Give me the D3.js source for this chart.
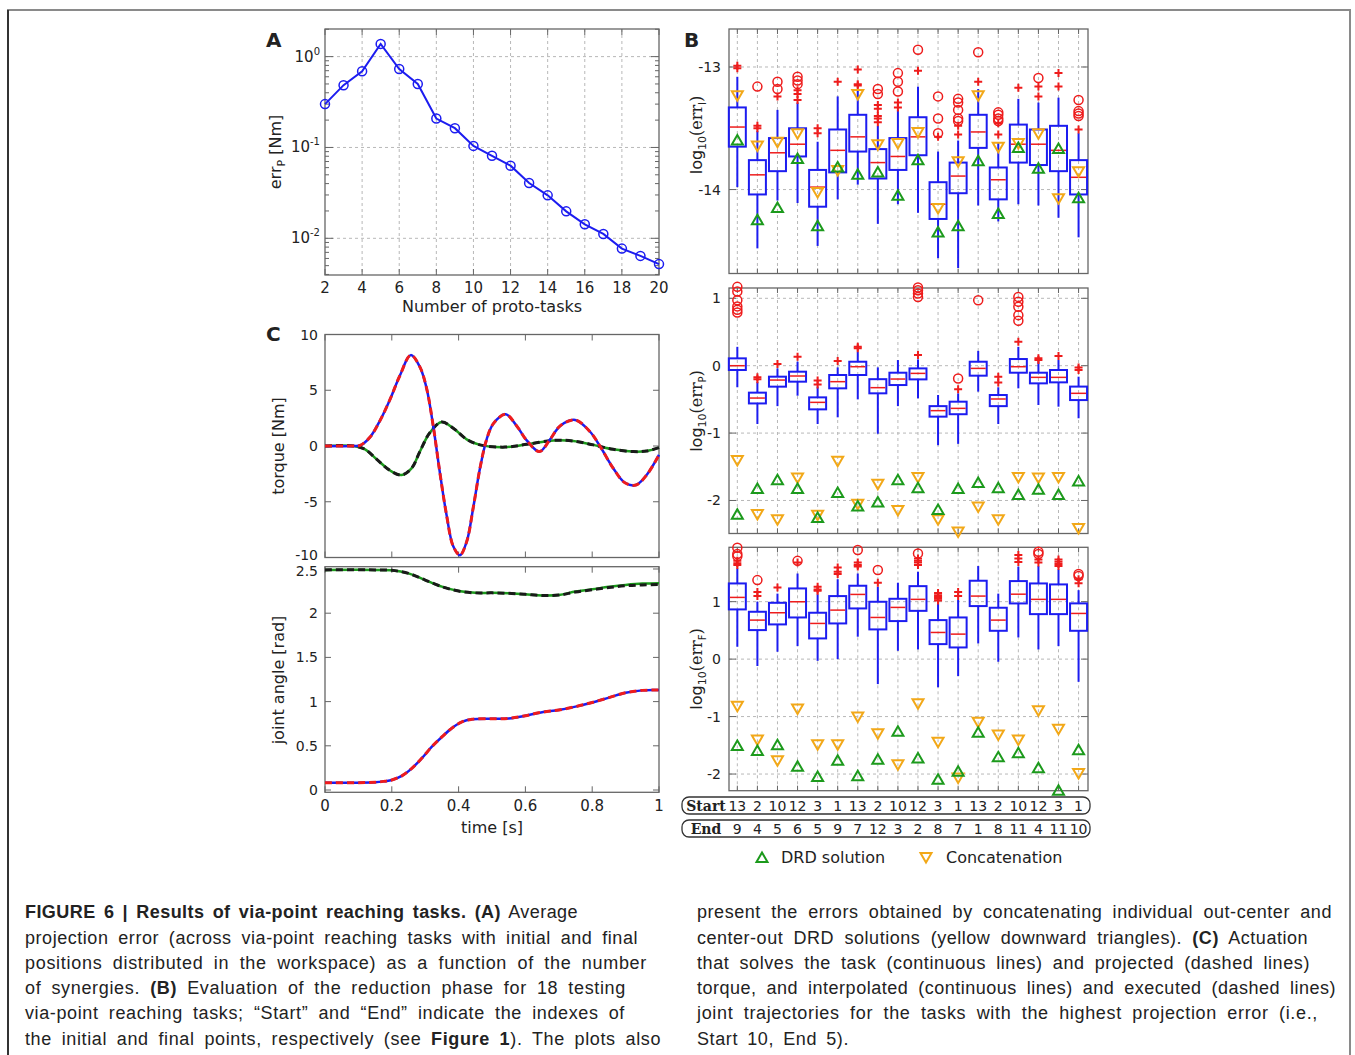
<!DOCTYPE html>
<html>
<head>
<meta charset="utf-8">
<script src="https://cdn.jsdelivr.net/npm/d3@7"></script>
<style>
body { margin: 0; background: #fff; }
text { fill: #222; }
</style>
</head>
<body>
<div id="vis"></div>
<script>
// ---- panel A: projection error vs number of proto-tasks
const nProto = [2,3,4,5,6,7,8,9,10,11,12,13,14,15,16,17,18,19,20];
const errP = [0.30,0.485,0.69,1.38,0.73,0.50,0.208,0.163,0.104,0.081,0.063,0.0406,0.0297,0.0198,0.01426,0.01117,0.0077,0.0064,0.0052];
const xTicksA = [2,4,6,8,10,12,14,16,18,20];
const yTicksA = [1,0.1,0.01];
const yTickExpA = ["0","-1","-2"];

// ---- panel B: 18 testing tasks
const startIdx = [13,2,10,12,3,1,13,2,10,12,3,1,13,2,10,12,3,1];
const endIdx = [9,4,5,6,5,9,7,12,3,2,8,7,1,8,11,4,11,10];

// log10(err_I)
const errI_q3  = [-13.33,-13.76,-13.58,-13.50,-13.84,-13.51,-13.39,-13.67,-13.58,-13.41,-13.94,-13.78,-13.39,-13.82,-13.47,-13.51,-13.48,-13.76];
const errI_med = [-13.49,-13.88,-13.70,-13.63,-13.98,-13.68,-13.57,-13.78,-13.73,-13.57,-14.12,-13.89,-13.53,-13.92,-13.63,-13.63,-13.68,-13.90];
const errI_q1  = [-13.65,-14.04,-13.85,-13.73,-14.14,-13.86,-13.69,-13.91,-13.84,-13.72,-14.24,-14.03,-13.66,-14.08,-13.78,-13.80,-13.85,-14.04];
const errI_hi  = [-13.08,-13.52,-13.35,-13.29,-13.61,-13.24,-13.18,-13.48,-13.35,-13.16,-13.69,-13.60,-13.18,-13.62,-13.26,-13.29,-13.25,-13.54];
const errI_lo  = [-13.98,-14.48,-14.09,-14.11,-14.46,-14.08,-13.96,-14.28,-14.12,-14.19,-14.56,-14.64,-14.13,-14.26,-14.12,-14.13,-14.23,-14.39];
const errI_plus = [[-13.01,-12.99],[-13.48,-13.50],[-13.24],[-13.19,-13.22,-13.27],[-13.50,-13.54],[-13.12],[-13.02,-13.14,-13.15],[-13.31,-13.34,-13.40,-13.42,-13.45],[-13.29,-13.33],[-13.03],[-13.57],[-13.48,-13.55],[-13.12],[-13.46,-13.55],[-13.17],[-13.16,-13.24],[-13.05,-13.16],[-13.51]];
const errI_circ = [[],[-13.16],[-13.12,-13.18],[-13.08,-13.11,-13.14],[],[],[],[-13.18,-13.22],[-13.05,-13.12,-13.20],[-12.86],[-13.24,-13.42,-13.54],[-13.26,-13.29,-13.35,-13.42,-13.44],[-12.88],[-13.37,-13.39,-13.42,-13.44],[],[-13.09],[],[-13.27,-13.36,-13.38,-13.40]];
const errI_drd = [-13.60,-14.25,-14.15,-13.75,-14.30,-13.82,-13.88,-13.86,-14.05,-13.76,-14.35,-14.30,-13.77,-14.20,-13.66,-13.83,-13.67,-14.07];
const errI_cat = [-13.23,-13.64,-13.61,-13.54,-14.02,-13.84,-13.22,-13.63,-13.62,-13.53,-14.15,-13.77,-13.23,-13.65,-13.62,-13.54,-14.07,-13.85];

// log10(err_P)
const errPb_q3  = [0.109,-0.40,-0.163,-0.089,-0.47,-0.138,0.059,-0.20,-0.104,-0.04,-0.60,-0.534,0.059,-0.435,0.099,-0.104,-0.064,-0.31];
const errPb_med = [0,-0.48,-0.213,-0.153,-0.544,-0.237,-0.015,-0.326,-0.198,-0.114,-0.667,-0.633,-0.04,-0.494,-0.015,-0.173,-0.173,-0.41];
const errPb_q1  = [-0.064,-0.56,-0.311,-0.237,-0.648,-0.336,-0.138,-0.41,-0.287,-0.203,-0.756,-0.72,-0.148,-0.60,-0.104,-0.262,-0.247,-0.51];
const errPb_hi  = [0.28,-0.24,-0.04,0.06,-0.31,-0.025,0.21,-0.025,0.084,0.094,-0.435,-0.41,0.22,-0.32,0.28,0.06,0.084,-0.163];
const errPb_lo  = [-0.32,-0.865,-0.60,-0.445,-0.865,-0.766,-0.50,-1.01,-0.60,-0.484,-1.18,-1.16,-0.385,-0.865,-0.336,-0.583,-0.608,-0.78];
const errPb_plus = [[],[-0.17,-0.20],[0.025],[0.133],[-0.22,-0.28],[0.07],[0.28,0.26],[],[],[0.158],[],[-0.35],[],[-0.163,-0.25],[0.356],[0.109,0.084],[0.143],[-0.025,-0.064]];
const errPb_circ = [[1.17,1.10,0.97,0.88,0.83,0.79],[],[],[],[],[],[],[],[],[1.16,1.12,1.07,1.02],[],[-0.19],[0.97],[],[1.02,0.95,0.875,0.75,0.667],[],[],[]];
const errPb_drd = [-2.21,-1.83,-1.70,-1.83,-2.26,-1.89,-2.09,-2.03,-1.70,-1.82,-2.14,-1.83,-1.74,-1.82,-1.92,-1.84,-1.92,-1.72];
const errPb_cat = [-1.40,-2.20,-2.28,-1.66,-2.21,-1.41,-2.05,-1.75,-2.14,-1.65,-2.28,-2.46,-2.09,-2.28,-1.65,-1.66,-1.65,-2.41];

// log10(err_F)
const errF_q3  = [1.317,0.824,0.98,1.23,0.807,1.097,1.277,0.998,1.05,1.27,0.679,0.725,1.364,0.894,1.358,1.317,1.30,0.97];
const errF_med = [1.074,0.679,0.807,0.998,0.621,0.853,1.126,0.725,0.90,1.04,0.464,0.435,1.097,0.679,1.13,1.04,1.04,0.795];
const errF_q1  = [0.865,0.505,0.604,0.725,0.36,0.621,0.882,0.517,0.662,0.84,0.261,0.203,0.923,0.493,0.969,0.783,0.783,0.493];
const errF_hi  = [1.58,1.0,1.14,1.49,1.13,1.39,1.49,1.26,1.33,1.52,0.97,1.03,1.62,1.14,1.61,1.62,1.56,1.20];
const errF_lo  = [0.215,-0.12,0.128,0.226,-0.03,0.0,0.39,-0.435,0.145,0.168,-0.49,-0.296,0.273,-0.046,0.377,0.168,0.226,-0.395];
const errF_plus = [[1.71,1.67,1.64],[1.17,1.10],[1.248],[1.68],[1.26,1.21,1.19],[1.596,1.52,1.48],[1.68,1.64,1.61],[1.33],[],[1.75,1.71,1.68,1.64],[1.15,1.11,1.08,1.05,1.02],[1.17,1.10],[],[],[1.81,1.75,1.69],[1.735,1.68],[1.735,1.695,1.654,1.62],[1.39,1.32]];
const errF_circ = [[1.94,1.83,1.79],[1.375],[],[1.71],[],[],[1.90],[1.55],[],[1.84],[],[],[],[],[],[1.87,1.83],[],[1.48,1.445]];
const errF_drd = [-1.51,-1.60,-1.50,-1.875,-2.05,-1.77,-2.04,-1.75,-1.265,-1.73,-2.10,-1.96,-1.28,-1.71,-1.64,-1.90,-2.29,-1.585];
const errF_cat = [-0.81,-1.40,-1.76,-0.86,-1.48,-1.48,-1.0,-1.29,-1.83,-0.77,-1.44,-2.06,-1.09,-1.31,-1.40,-0.89,-1.21,-1.98];

// ---- panel C: torque and joint angle, task Start 10 End 5
const tq1T = [0,0.085,0.105,0.135,0.165,0.195,0.224,0.257,0.284,0.304,0.324,0.344,0.364,0.384,0.404,0.424,0.444,0.464,0.484,0.504,0.541,0.574,0.604,0.642,0.674,0.704,0.749,0.793,0.823,0.863,0.898,0.931,0.963,1.0];
const tq1 = [0,0,0.05,0.8,2.3,4.2,6.3,8.15,7.1,5.2,1.8,-2.4,-6.2,-9.0,-9.8,-8.6,-5.5,-2.0,0.6,2.0,2.84,1.8,0.5,-0.5,0.6,1.8,2.34,1.3,0.0,-2.0,-3.3,-3.5,-2.6,-0.8];
const tq2T = [0,0.085,0.12,0.155,0.195,0.229,0.259,0.284,0.314,0.349,0.384,0.424,0.464,0.539,0.604,0.684,0.743,0.803,0.863,0.923,0.963,1.0];
const tq2 = [0,0,-0.3,-1.2,-2.2,-2.6,-2.0,-0.5,1.2,2.15,1.6,0.6,0.1,-0.1,0.15,0.5,0.45,0.1,-0.3,-0.5,-0.45,-0.15];
const j1T = [0,0.15,0.18,0.2,0.23,0.26,0.29,0.32,0.35,0.38,0.41,0.44,0.5,0.55,0.6,0.65,0.7,0.75,0.8,0.85,0.9,0.95,1.0];
const j1 = [0.083,0.087,0.10,0.113,0.16,0.245,0.36,0.49,0.60,0.70,0.77,0.80,0.807,0.81,0.84,0.88,0.905,0.943,0.99,1.045,1.10,1.127,1.13];
const j2T = [0,0.15,0.2,0.25,0.3,0.35,0.4,0.45,0.5,0.55,0.6,0.65,0.7,0.75,0.8,0.85,0.9,0.95,1.0];
const j2 = [2.49,2.49,2.485,2.45,2.375,2.30,2.25,2.23,2.23,2.225,2.213,2.20,2.205,2.245,2.27,2.30,2.32,2.335,2.34];
const j2exec = [2.49,2.49,2.485,2.45,2.375,2.30,2.25,2.23,2.23,2.225,2.213,2.20,2.205,2.24,2.265,2.29,2.31,2.32,2.325];
const timeTicks = [0,0.2,0.4,0.6,0.8,1];
const torqueTicks = [10,5,0,-5,-10];
const angleTicks = [2.5,2,1.5,1,0.5,0];

const BLUE = "#1c1cf0", RED = "#ee1c1c", GREEN = "#1c9a1c", ORANGE = "#f2a818";
const SANS = "'DejaVu Sans', sans-serif";
const SERIF = "'DejaVu Serif', serif";
const CAPTION = "'Liberation Sans Narrow', 'Liberation Sans', Arial, sans-serif";

const svg = d3.select("#vis")
    .append("svg")
    .attr("width", 1355)
    .attr("height", 1055)
    .style("font-family", SANS);

// outer figure frame
svg.append("path").attr("d", "M8,1055V10H1350V1055")
    .attr("fill", "none").attr("stroke", "#8a8a8a").attr("stroke-width", 2);
svg.append("line").attr("x1", 8).attr("x2", 8).attr("y1", 10).attr("y2", 1055)
    .attr("stroke", "#333").attr("stroke-width", 2);

function dashed(g, x1, y1, x2, y2) {
    g.append("line").attr("x1", x1).attr("y1", y1).attr("x2", x2).attr("y2", y2)
        .attr("stroke", "#b8b8b8").attr("stroke-width", 1).attr("stroke-dasharray", "3,3");
}
function tick(g, x1, y1, x2, y2) {
    g.append("line").attr("x1", x1).attr("y1", y1).attr("x2", x2).attr("y2", y2)
        .attr("stroke", "#666").attr("stroke-width", 1);
}
function frame(g, x0, y0, x1, y1) {
    g.append("rect").attr("x", x0).attr("y", y0).attr("width", x1 - x0).attr("height", y1 - y0)
        .attr("fill", "none").attr("stroke", "#666").attr("stroke-width", 1.3);
}
function label(g, x, y, txt, opts) {
    opts = opts || {};
    return g.append("text").attr("x", x).attr("y", y)
        .attr("text-anchor", opts.anchor || "middle")
        .attr("font-size", opts.size || 15)
        .attr("font-weight", opts.weight || "normal")
        .text(txt);
}

// ================= panel A
const gA = svg.append("g");
const xA = d3.scaleLinear().domain([2, 20]).range([325, 659]);
const yA = d3.scaleLog().domain([Math.pow(10, -2.404), Math.pow(10, 0.304)]).range([275, 29]);

xTicksA.forEach(v => {
    if (v > 2 && v < 20) dashed(gA, xA(v), 29, xA(v), 275);
    tick(gA, xA(v), 275, xA(v), 269);
    tick(gA, xA(v), 29, xA(v), 35);
    label(gA, xA(v), 293, v, {size: 15});
});
yTicksA.forEach((v, i) => {
    dashed(gA, 325, yA(v), 659, yA(v));
    tick(gA, 325, yA(v), 333, yA(v));
    tick(gA, 659, yA(v), 651, yA(v));
    const t = gA.append("text").attr("x", 320).attr("y", yA(v) + 5)
        .attr("text-anchor", "end").attr("font-size", 15);
    t.append("tspan").text("10");
    t.append("tspan").attr("font-size", 10).attr("dy", -7).text(yTickExpA[i]);
});
[-3, -2, -1, 0].forEach(k => {
    for (let m = 2; m <= 9; m++) {
        const v = m * Math.pow(10, k);
        if (yA(v) > 29 && yA(v) < 275) {
            tick(gA, 325, yA(v), 329, yA(v));
            tick(gA, 659, yA(v), 655, yA(v));
        }
    }
});
frame(gA, 325, 29, 659, 275);
gA.append("path").datum(nProto)
    .attr("d", d3.line().x(d => xA(d)).y((d, i) => yA(errP[i])))
    .attr("fill", "none").attr("stroke", BLUE).attr("stroke-width", 2);
gA.selectAll("circle.a").data(nProto).enter().append("circle")
    .attr("cx", d => xA(d)).attr("cy", (d, i) => yA(errP[i])).attr("r", 4.5)
    .attr("fill", "none").attr("stroke", BLUE).attr("stroke-width", 1.5);

label(gA, 266, 47, "A", {size: 20, weight: "bold", anchor: "start"});
label(gA, 492, 312, "Number of proto-tasks", {size: 16});
const ylA = gA.append("text").attr("transform", "translate(281,152) rotate(-90)")
    .attr("text-anchor", "middle").attr("font-size", 16);
ylA.append("tspan").text("err");
ylA.append("tspan").attr("font-size", 11).attr("dy", 4).text("P");
ylA.append("tspan").attr("dy", -4).text(" [Nm]");

// ================= panel B
const xB = d3.scaleLinear().domain([0.585, 18.47]).range([729, 1088]);
const tasks = d3.range(1, 19);

const panelsB = [
    {top: 29, bot: 273.5, dom: [-14.685, -12.69], ticks: [-13, -14], sub: "I", ly: 135,
     q1: errI_q1, q3: errI_q3, med: errI_med, lo: errI_lo, hi: errI_hi, plus: errI_plus, circ: errI_circ, drd: errI_drd, cat: errI_cat},
    {top: 288, bot: 533.5, dom: [-2.49, 1.153], ticks: [1, 0, -1, -2], sub: "P", ly: 411,
     q1: errPb_q1, q3: errPb_q3, med: errPb_med, lo: errPb_lo, hi: errPb_hi, plus: errPb_plus, circ: errPb_circ, drd: errPb_drd, cat: errPb_cat},
    {top: 547.3, bot: 790.7, dom: [-2.29, 1.946], ticks: [1, 0, -1, -2], sub: "F", ly: 669,
     q1: errF_q1, q3: errF_q3, med: errF_med, lo: errF_lo, hi: errF_hi, plus: errF_plus, circ: errF_circ, drd: errF_drd, cat: errF_cat}
];

const triUp = "M0,-5.5L5.5,4L-5.5,4Z";
const triDown = "M0,5.5L5.5,-4L-5.5,-4Z";

panelsB.forEach(p => {
    const g = svg.append("g");
    const y = d3.scaleLinear().domain(p.dom).range([p.bot, p.top]);
    tasks.forEach(t => {
        dashed(g, xB(t), p.top, xB(t), p.bot);
        tick(g, xB(t), p.bot, xB(t), p.bot - 5);
        tick(g, xB(t), p.top, xB(t), p.top + 5);
    });
    p.ticks.forEach(v => {
        dashed(g, 729, y(v), 1088, y(v));
        tick(g, 729, y(v), 736, y(v));
        tick(g, 1088, y(v), 1081, y(v));
        label(g, 721, y(v) + 5, v, {size: 14, anchor: "end"});
    });
    frame(g, 729, p.top, 1088, p.bot);

    tasks.forEach((t, i) => {
        const cx = xB(t), hw = 8.5;
        g.append("line").attr("x1", cx).attr("x2", cx).attr("y1", y(p.hi[i])).attr("y2", y(p.q3[i]))
            .attr("stroke", BLUE).attr("stroke-width", 2);
        g.append("line").attr("x1", cx).attr("x2", cx).attr("y1", y(p.q1[i])).attr("y2", y(p.lo[i]))
            .attr("stroke", BLUE).attr("stroke-width", 2);
        g.append("rect").attr("x", cx - hw).attr("width", 2 * hw)
            .attr("y", y(p.q3[i])).attr("height", y(p.q1[i]) - y(p.q3[i]))
            .attr("fill", "none").attr("stroke", BLUE).attr("stroke-width", 2);
        g.append("line").attr("x1", cx - hw + 1).attr("x2", cx + hw - 1).attr("y1", y(p.med[i])).attr("y2", y(p.med[i]))
            .attr("stroke", RED).attr("stroke-width", 1.5);
        p.plus[i].forEach(v => {
            g.append("path").attr("transform", `translate(${cx},${y(v)})`).attr("d", "M-4,0H4M0,-4V4")
                .attr("stroke", RED).attr("stroke-width", 2);
        });
        p.circ[i].forEach(v => {
            g.append("circle").attr("cx", cx).attr("cy", y(v)).attr("r", 4.5)
                .attr("fill", "none").attr("stroke", RED).attr("stroke-width", 1.5);
        });
        g.append("path").attr("transform", `translate(${cx},${y(p.cat[i])})`).attr("d", triDown)
            .attr("fill", "none").attr("stroke", ORANGE).attr("stroke-width", 2);
        g.append("path").attr("transform", `translate(${cx},${y(p.drd[i])})`).attr("d", triUp)
            .attr("fill", "none").attr("stroke", GREEN).attr("stroke-width", 2);
    });

    const yl = g.append("text").attr("transform", `translate(702,${p.ly}) rotate(-90)`)
        .attr("text-anchor", "middle").attr("font-size", 16);
    yl.append("tspan").text("log");
    yl.append("tspan").attr("font-size", 11).attr("dy", 4).text("10");
    yl.append("tspan").attr("dy", -4).style("font-family", SERIF).text("(err");
    yl.append("tspan").attr("font-size", 10).attr("dy", 4).text(p.sub);
    yl.append("tspan").attr("dy", -4).style("font-family", SERIF).text(")");
});
label(svg, 684, 47, "B", {size: 20, weight: "bold", anchor: "start"});

// Start / End table
const gT = svg.append("g");
[[797, "Start", startIdx], [820, "End", endIdx]].forEach(([ty, name, arr]) => {
    gT.append("rect").attr("x", 682).attr("y", ty).attr("width", 408).attr("height", 17).attr("rx", 7)
        .attr("fill", "none").attr("stroke", "#333").attr("stroke-width", 1.3);
    gT.append("text").attr("x", 706).attr("y", ty + 13.5).attr("text-anchor", "middle")
        .style("font-family", SERIF).attr("font-weight", "bold").attr("font-size", 14).text(name);
    arr.forEach((v, i) => label(gT, xB(i + 1), ty + 14, v, {size: 14}));
});

// legend
svg.append("path").attr("transform", "translate(762,858)").attr("d", triUp)
    .attr("fill", "none").attr("stroke", GREEN).attr("stroke-width", 2);
label(svg, 781, 863, "DRD solution", {size: 16, anchor: "start"});
svg.append("path").attr("transform", "translate(926,857)").attr("d", triDown)
    .attr("fill", "none").attr("stroke", ORANGE).attr("stroke-width", 2);
label(svg, 946, 863, "Concatenation", {size: 16, anchor: "start"});

// ================= panel C
const gC = svg.append("g");
const xC = d3.scaleLinear().domain([0, 1]).range([325, 659]);
const yT = d3.scaleLinear().domain([-10, 10]).range([557.5, 334.5]);
const yJ = d3.scaleLinear().domain([-0.026, 2.526]).range([792.3, 566.7]);

function cFrame(y, top, bot, ticks, nudge) {
    timeTicks.forEach(t => {
        tick(gC, xC(t), bot, xC(t), bot - 6);
        tick(gC, xC(t), top, xC(t), top + 6);
    });
    ticks.forEach(v => {
        tick(gC, 325, y(v), 331, y(v));
        tick(gC, 659, y(v), 653, y(v));
        label(gC, 318, y(v) + 5 + (nudge[v] || 0), v, {size: 14, anchor: "end"});
    });
    frame(gC, 325, top, 659, bot);
}
// the -10 and 2.5 labels sit close together, as in the figure
cFrame(yT, 334.5, 557.5, torqueTicks, {"-10": -3});
cFrame(yJ, 566.7, 792.3, angleTicks, {"2.5": 2});
timeTicks.forEach(t => label(gC, xC(t), 811, t, {size: 15}));

function curve(ts, vs, y, color, width, dash) {
    const pth = gC.append("path").datum(ts)
        .attr("d", d3.line().x(d => xC(d)).y((d, i) => y(vs[i])).curve(d3.curveCatmullRom))
        .attr("fill", "none").attr("stroke", color).attr("stroke-width", width);
    if (dash) pth.attr("stroke-dasharray", dash);
}
// actuation (solid) and projected (dashed)
curve(tq2T, tq2, yT, GREEN, 2.5);
curve(tq2T, tq2, yT, "#1a1a1a", 3, "7,4");
curve(tq1T, tq1, yT, BLUE, 2.5);
curve(tq1T, tq1, yT, RED, 3, "7,4");
// interpolated (solid) and executed (dashed)
curve(j2T, j2, yJ, GREEN, 2.5);
curve(j2T, j2exec, yJ, "#1a1a1a", 3, "7,4");
curve(j1T, j1, yJ, BLUE, 2.5);
curve(j1T, j1, yJ, RED, 3, "7,4");

label(gC, 266, 341, "C", {size: 20, weight: "bold", anchor: "start"});
label(gC, 492, 833, "time [s]", {size: 16});
gC.append("text").attr("transform", "translate(284,446) rotate(-90)")
    .attr("text-anchor", "middle").attr("font-size", 16).text("torque [Nm]");
gC.append("text").attr("transform", "translate(284,680) rotate(-90)")
    .attr("text-anchor", "middle").attr("font-size", 16).text("joint angle [rad]");

// ================= caption
const capLeft = [
    [["FIGURE 6 | Results of via-point reaching tasks. (A)", 1], [" Average", 0]],
    [["projection error (across via-point reaching tasks with initial and final", 0]],
    [["positions distributed in the workspace) as a function of the number", 0]],
    [["of synergies. ", 0], ["(B)", 1], [" Evaluation of the reduction phase for 18 testing", 0]],
    [["via-point reaching tasks; \u201cStart\u201d and \u201cEnd\u201d indicate the indexes of", 0]],
    [["the initial and final points, respectively (see ", 0], ["Figure 1", 1], ["). The plots also", 0]]
];
const capLeftEnd = [578, 638, 647, 626, 625, 661];
const capRight = [
    [["present the errors obtained by concatenating individual out-center and", 0]],
    [["center-out DRD solutions (yellow downward triangles). ", 0], ["(C)", 1], [" Actuation", 0]],
    [["that solves the task (continuous lines) and projected (dashed lines)", 0]],
    [["torque, and interpolated (continuous lines) and executed (dashed lines)", 0]],
    [["joint trajectories for the tasks with the highest projection error (i.e.,", 0]],
    [["Start 10, End 5).", 0]]
];
const capRightEnd = [1332, 1308, 1310, 1336, 1318, 849];
const capBase = [918, 944, 969, 994, 1019, 1045];

// justified lines: share the spare width between letter and word gaps
function caption(lines, ends, x0) {
    lines.forEach((segs, i) => {
        const t = svg.append("text").attr("x", x0).attr("y", capBase[i])
            .style("font-family", CAPTION)
            .attr("font-size", 18)
            .style("white-space", "pre");
        segs.forEach(([s, b]) => t.append("tspan").attr("font-weight", b ? "bold" : "normal").text(s));
        const str = segs.map(s => s[0]).join("");
        const nat = t.node().getComputedTextLength();
        const gaps = str.split(" ").length - 1;
        const extra = ends[i] - x0 - nat;
        if (extra > 0) {
            t.style("letter-spacing", (0.5 * extra / str.length) + "px")
             .style("word-spacing", (0.5 * extra / Math.max(gaps, 1)) + "px");
        } else {
            t.attr("textLength", ends[i] - x0).attr("lengthAdjust", "spacingAndGlyphs");
        }
    });
}
caption(capLeft, capLeftEnd, 25);
caption(capRight, capRightEnd, 697);
</script>
</body>
</html>
